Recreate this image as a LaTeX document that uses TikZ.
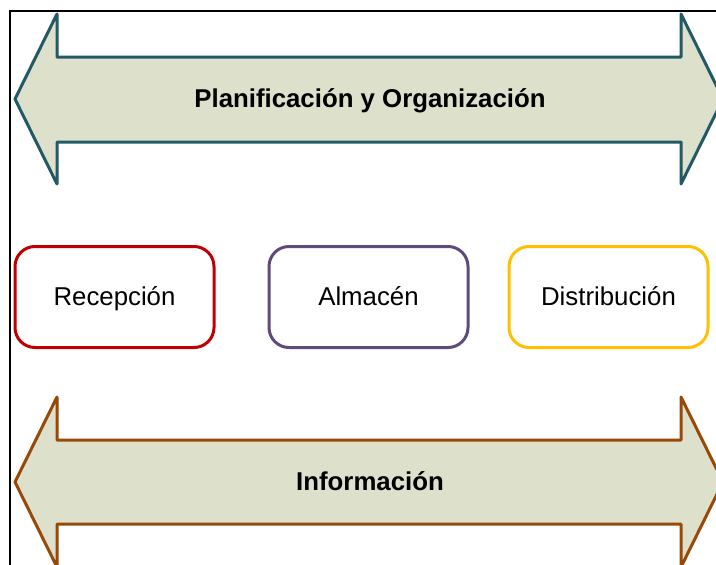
\documentclass[tikz,border=0pt]{standalone}
\usepackage{fontspec}
\setmainfont{Liberation Sans}
\usetikzlibrary{positioning}
\definecolor{tealline}{HTML}{215967}
\definecolor{oliveback}{HTML}{DDE1CC}
\definecolor{brownline}{HTML}{984807}
\definecolor{redline}{HTML}{C00000}
\definecolor{purpleline}{HTML}{604A7B}
\definecolor{goldline}{HTML}{FFC000}

\begin{document}
\begin{tikzpicture}[x=1pt,y=-1pt]
\tikzstyle{every node}=[font=\fontsize{25.8}{30}\selectfont, text height=21pt, text depth=5pt]
\tikzstyle{stage}=[draw, line width=3pt, rounded corners=20pt, minimum width=199pt, minimum height=101pt, inner sep=5pt]
\tikzstyle{band}=[fill=oliveback, line width=3pt, line join=round]
\useasboundingbox (0,0) rectangle (716,565);
\clip (0,0) rectangle (716,565);
\draw[line width=2pt] (10,600) |- (740,11);
% bands
\draw[band, draw=tealline] (15,99) -- (57,14) -- (57,57) -- (681,57) -- (681,14) -- (723,99)
  -- (681,184) -- (681,142) -- (57,142) -- (57,184) -- cycle;
\draw[band, draw=brownline] (15,482) -- (57,397) -- (57,440) -- (681,440) -- (681,397) -- (723,482)
  -- (681,567) -- (681,524) -- (57,524) -- (57,567) -- cycle;
\node (plan) at (370,99) {\textbf{Planificación y Organización}};
\node (info) at (370,482) {\textbf{Información}};
% stages
\node (recep) [stage, draw=redline] at (114.5,297) {Recepción};
\node (almacen) [stage, draw=purpleline, right=52pt of recep] {Almacén};
\node (distrib) [stage, draw=goldline, right=38pt of almacen] {Distribución};
\end{tikzpicture}
\end{document}
